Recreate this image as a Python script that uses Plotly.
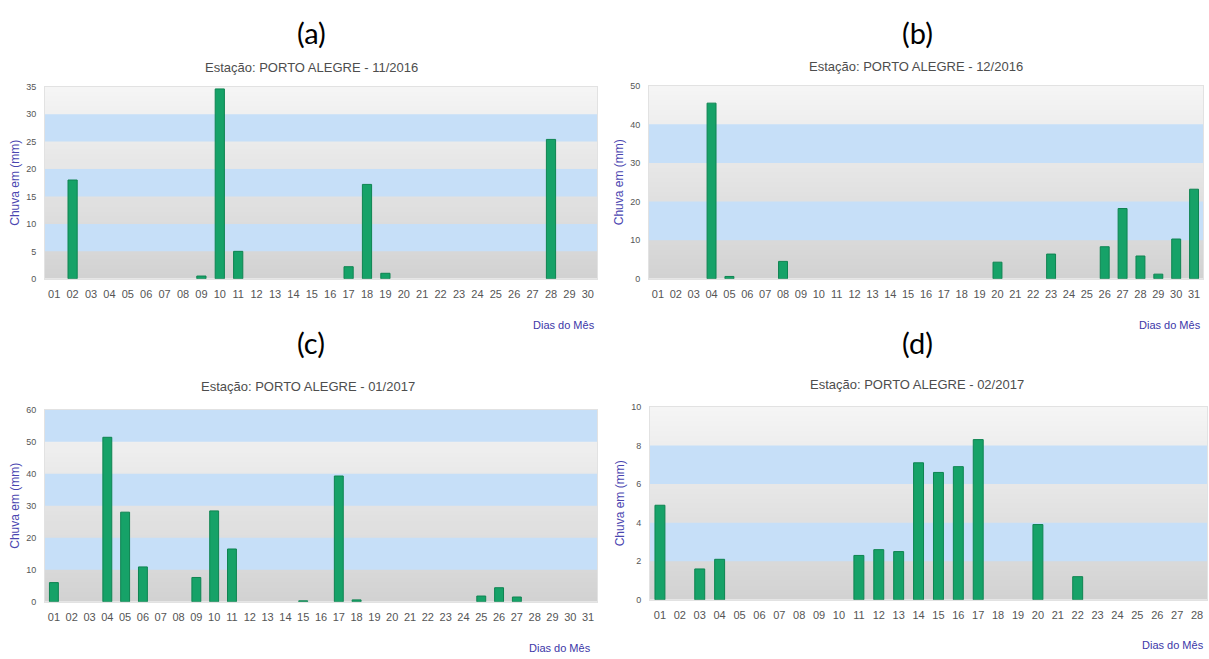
import plotly.graph_objects as go

# Daily rainfall (mm), Porto Alegre station
dias_nov = [f"{d:02d}" for d in range(1, 31)]
chuva_nov_2016 = [0, 18.0, 0, 0, 0, 0, 0, 0, 0.5, 34.6,
                  5.0, 0, 0, 0, 0, 0, 2.2, 17.2, 1.0, 0,
                  0, 0, 0, 0, 0, 0, 0, 25.4, 0, 0]

dias_dez = [f"{d:02d}" for d in range(1, 32)]
chuva_dez_2016 = [0, 0, 0, 45.5, 0.6, 0, 0, 4.5, 0, 0,
                  0, 0, 0, 0, 0, 0, 0, 0, 0, 4.3,
                  0, 0, 6.4, 0, 0, 8.3, 18.2, 5.9, 1.2, 10.3,
                  23.2]

dias_jan = [f"{d:02d}" for d in range(1, 32)]
chuva_jan_2017 = [6.0, 0, 0, 51.4, 28.0, 10.9, 0, 0, 7.6, 28.4,
                  16.5, 0, 0, 0, 0.3, 0, 39.3, 0.6, 0, 0,
                  0, 0, 0, 0, 1.8, 4.4, 1.5, 0, 0, 0,
                  0]

dias_fev = [f"{d:02d}" for d in range(1, 29)]
chuva_fev_2017 = [4.9, 0, 1.6, 2.1, 0, 0, 0, 0, 0, 0,
                  2.3, 2.6, 2.5, 7.1, 6.6, 6.9, 8.3, 0, 0, 3.9,
                  0, 1.2, 0, 0, 0, 0, 0, 0]

titulos = ["Estação: PORTO ALEGRE - 11/2016", "Estação: PORTO ALEGRE - 12/2016",
           "Estação: PORTO ALEGRE - 01/2017", "Estação: PORTO ALEGRE - 02/2017"]
letras = ["(a)", "(b)", "(c)", "(d)"]
eixo_max = [35, 50, 60, 10]
eixo_passo = [5, 10, 10, 2]

W, H = 1209, 659

# panel geometry in pixels: plot left, right, top, bottom
paineis = [
    dict(x0=45, x1=597, y0=83, y1=278, tx=311, ty=63, lx=311, ly=28, dx=597, dy=325),
    dict(x0=649, x1=1203, y0=82, y1=278, tx=916, ty=62, lx=917, ly=28, dx=1203, dy=325),
    dict(x0=45, x1=597, y0=411, y1=606, tx=308, ty=387, lx=311, ly=343, dx=593, dy=653),
    dict(x0=650, x1=1207, y0=408, y1=604, tx=917, ty=385, lx=917, ly=343, dx=1206, dy=650),
]

series = [(dias_nov, chuva_nov_2016), (dias_dez, chuva_dez_2016),
          (dias_jan, chuva_jan_2017), (dias_fev, chuva_fev_2017)]

fig = go.Figure()
shapes = []
annotations = []

BLUE = "#c6dff8"
TOP_GRAY = (245, 245, 245)
BOT_GRAY = (210, 210, 210)
N_STRIPS = 40
FONT = "Liberation Sans, Arial"

for i, ((dias, chuva), p) in enumerate(zip(series, paineis)):
    n = i + 1
    xa = "x" if n == 1 else f"x{n}"
    ya = "y" if n == 1 else f"y{n}"
    # outline only the bars that actually have rain
    contorno = [1 if v > 0 else 0 for v in chuva]
    fig.add_trace(go.Bar(
        x=dias, y=chuva, xaxis=xa, yaxis=ya, width=0.5,
        marker=dict(color="#16a268", line=dict(color="#0e8451", width=contorno)),
        showlegend=False, hoverinfo="x+y",
    ))
    ymax, passo = eixo_max[i], eixo_passo[i]
    xdom = [p["x0"] / W, p["x1"] / W]
    ydom = [1 - p["y1"] / H, 1 - p["y0"] / H]
    axis_x = dict(domain=xdom, anchor=ya, type="category", categoryorder="array",
                  categoryarray=dias, range=[-0.5, len(dias) - 0.5],
                  showgrid=False, zeroline=False, showline=True, mirror=True,
                  linecolor="#e2e2e2", linewidth=1,
                  ticks="outside", ticklen=5, tickcolor="rgba(0,0,0,0)",
                  tickfont=dict(family=FONT, size=11, color="#555555"))
    axis_y = dict(domain=ydom, anchor=xa, range=[0, ymax],
                  tickvals=list(range(0, ymax + 1, passo)),
                  showgrid=False, zeroline=False, showline=True, mirror=True,
                  linecolor="#e2e2e2", linewidth=1,
                  ticks="outside", ticklen=6, tickcolor="rgba(0,0,0,0)",
                  tickfont=dict(family=FONT, size=9, color="#555555"),
                  title=dict(text="Chuva em (mm)", standoff=3,
                             font=dict(family=FONT, size=12, color="#4a45b0")))
    key_x = "xaxis" if n == 1 else f"xaxis{n}"
    key_y = "yaxis" if n == 1 else f"yaxis{n}"
    fig.update_layout({key_x: axis_x, key_y: axis_y})

    xref_dom = f"{xa} domain"
    # vertical gray gradient: each strip runs to the top so no seams show
    for s in range(N_STRIPS):
        f = (s + 0.5) / N_STRIPS
        c = tuple(round(BOT_GRAY[k] + (TOP_GRAY[k] - BOT_GRAY[k]) * f) for k in range(3))
        shapes.append(dict(type="rect", xref=xref_dom, yref=ya, layer="below",
                           x0=0, x1=1, y0=ymax * s / N_STRIPS, y1=ymax,
                           fillcolor=f"rgb{c}", line=dict(width=0)))
    # alternating blue bands
    for b in range(ymax // passo):
        if b % 2 == 1:
            shapes.append(dict(type="rect", xref=xref_dom, yref=ya, layer="below",
                               x0=0, x1=1, y0=b * passo, y1=(b + 1) * passo,
                               fillcolor=BLUE, line=dict(width=0)))

    annotations.append(dict(text=titulos[i], xref="paper", yref="paper",
                            x=p["tx"] / W, y=1 - p["ty"] / H, showarrow=False,
                            xanchor="center", yanchor="middle",
                            font=dict(family=FONT, size=13, color="#4d4d4d")))
    annotations.append(dict(text=letras[i], xref="paper", yref="paper",
                            x=p["lx"] / W, y=1 - p["ly"] / H, showarrow=False,
                            xanchor="center", yanchor="middle",
                            font=dict(family="Lato, Open Sans", size=29, color="#000000")))
    annotations.append(dict(text="Dias do Mês", xref="paper", yref="paper",
                            x=p["dx"] / W, y=1 - p["dy"] / H, showarrow=False,
                            xanchor="right", yanchor="middle",
                            font=dict(family=FONT, size=11, color="#3c37a8")))

fig.update_layout(
    width=W, height=H, margin=dict(l=0, r=0, t=0, b=0),
    paper_bgcolor="white", plot_bgcolor="white",
    bargap=0.5, shapes=shapes, annotations=annotations,
)

fig.write_html("out.html")
